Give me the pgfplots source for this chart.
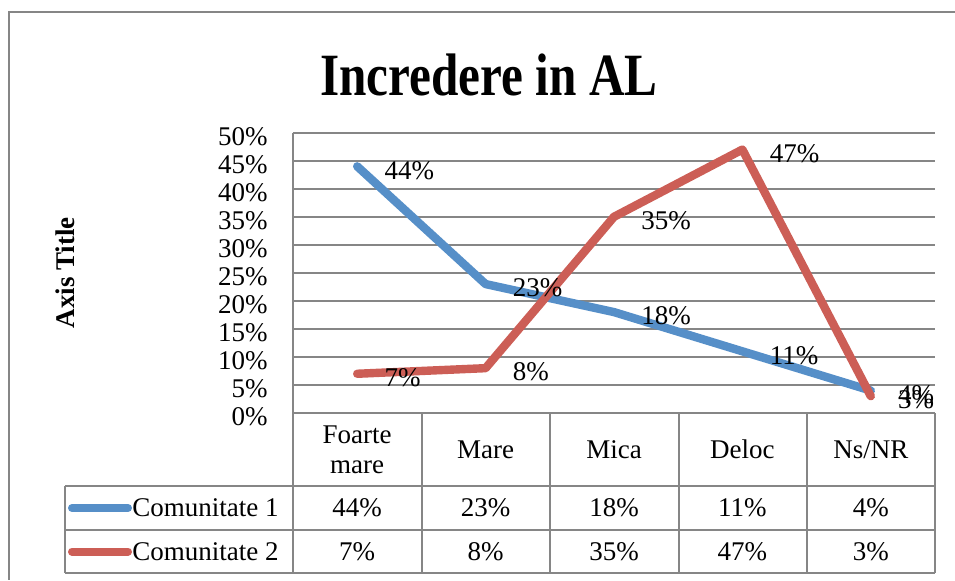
\documentclass[border=0pt]{standalone}
\usepackage{fontspec}
\setmainfont{Liberation Serif}
\newfontfamily\titlefont[FakeStretch=0.82]{Liberation Serif}
\usepackage{pgfplots}
\usepackage{pgfplotstable}
\pgfplotsset{compat=1.18}
\definecolor{cblue}{RGB}{86,143,200}
\definecolor{cred}{RGB}{204,94,86}
\definecolor{gline}{RGB}{134,134,134}
\pgfplotstableread{
x c1 c2
0 44 7
1 23 8
2 18 35
3 11 47
4 4 3
}\datatable
\newcommand{\fs}{\fontsize{13.5}{15}\selectfont}
\begin{document}
\begin{tikzpicture}
\begin{scope}[x=0.5pt,y=-0.5pt]
\useasboundingbox (0,0) rectangle (955,580);
\draw[gline, line width=1pt] (955,12) -- (9,12) -- (9,580);
\draw[gline, line width=1pt] (293,413) -- (935,413);
\foreach \yy in {486,530,573} \draw[gline,line width=1pt] (65,\yy) -- (935,\yy);
\draw[gline,line width=1pt] (65,486) -- (65,573);
\foreach \xx in {293,422,550,679,807,935} \draw[gline,line width=1pt] (\xx,413) -- (\xx,573);
\draw[cblue, line width=4pt, line cap=round] (72,508)--(128,508);
\draw[cred, line width=4pt, line cap=round] (72,551.5)--(128,551.5);
\node[anchor=west, inner sep=0pt, font=\fs] at (132,508) {Comunitate 1};
\node[anchor=west, inner sep=0pt, font=\fs] at (132,551.5) {Comunitate 2};
\end{scope}
\begin{axis}[
  at={(146.5pt,-206.5pt)}, anchor=south west,
  scale only axis, width=321pt, height=140.15pt,
  xmin=-0.5, xmax=4.5, ymin=0, ymax=50,
  clip=false,
  axis lines*=left, axis line style={gline, line width=1pt, -},
  ymajorgrids, grid style={gline, line width=1pt},
  ytick={0,5,...,50},
  yticklabel={\pgfmathprintnumber{\tick}\%},
  xtick={0,1,2,3,4},
  xticklabels={{Foarte\\mare},Mare,Mica,Deloc,Ns/NR},
  major tick length=0pt,
  /pgf/number format/assume math mode=true,
  tick label style={font=\fs},
  yticklabel style={anchor=east, inner sep=0pt, xshift=-12.5pt, yshift=-2pt},
  xticklabel style={anchor=center, inner sep=0pt, yshift=-18.25pt, align=center},
  every axis title shift=0pt,
  title={Incredere in AL},
  title style={at={(axis description cs:0.3053,1.1345)}, anchor=base, inner sep=0pt, font=\fontsize{30}{34}\titlefont\bfseries\selectfont},
  ylabel={Axis Title},
  ylabel style={at={(axis description cs:-0.3551,0.5)}, anchor=center, font=\fs\bfseries},
]
\addplot[cblue, line width=4.2pt, line cap=round, line join=round, mark=none] table[x=x,y=c1]{\datatable};
\addplot[cred, line width=4.2pt, line cap=round, line join=round, mark=none] table[x=x,y=c2]{\datatable};
\addplot[draw=none, mark=none, point meta=explicit, nodes near coords={\pgfmathprintnumber{\pgfplotspointmeta}\%}, nodes near coords style={anchor=west, inner sep=0pt, xshift=13.5pt, yshift=-2pt, font=\fs, text=black}] table[x=x,y=c1,meta=c1]{\datatable};
\addplot[draw=none, mark=none, point meta=explicit, nodes near coords={\pgfmathprintnumber{\pgfplotspointmeta}\%}, nodes near coords style={anchor=west, inner sep=0pt, xshift=13.5pt, yshift=-2pt, font=\fs, text=black}] table[x=x,y=c2,meta=c2]{\datatable};
\addplot[draw=none, mark=none, point meta=explicit, nodes near coords={\pgfmathprintnumber{\pgfplotspointmeta}\%}, nodes near coords style={anchor=center, inner sep=0pt, font=\fs, text=black}] table[x=x,y expr=-16.95,meta=c1]{\datatable};
\addplot[draw=none, mark=none, point meta=explicit, nodes near coords={\pgfmathprintnumber{\pgfplotspointmeta}\%}, nodes near coords style={anchor=center, inner sep=0pt, font=\fs, text=black}] table[x=x,y expr=-24.7,meta=c2]{\datatable};
\end{axis}
\end{tikzpicture}
\end{document}
